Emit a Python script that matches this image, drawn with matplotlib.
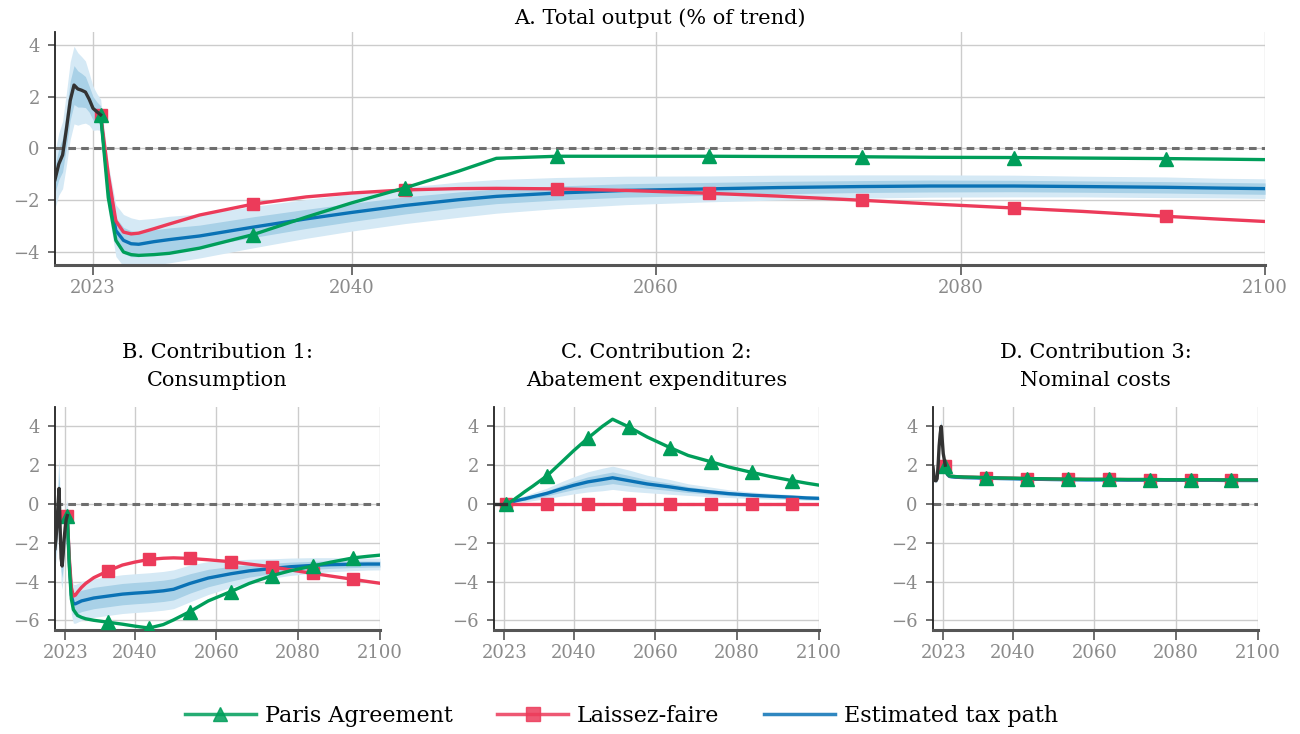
import matplotlib
matplotlib.use("Agg")
import matplotlib.pyplot as plt
from matplotlib.lines import Line2D
import numpy as np

plt.rcParams['font.family'] = ['DejaVu Serif']

# quarterly history, then the model paths
years_hist = [2020.5, 2020.75, 2021.0, 2021.25, 2021.5, 2021.75, 2022.0, 2022.25, 2022.5, 2022.75, 2023.0, 2023.25, 2023.5]
years_proj = [2023.5, 2024.0, 2024.5, 2025.0, 2025.5, 2026, 2027, 2028, 2030, 2033.5, 2037, 2040, 2043.5, 2047,
              2049.5, 2053.5, 2058, 2063.5, 2068, 2073.5, 2078, 2083.5, 2088, 2093.5, 2097, 2100]
marker_years = [2023.5, 2033.5, 2043.5, 2053.5, 2063.5, 2073.5, 2083.5, 2093.5]

# A. total output
hist_A = [-1.2, -0.6, -0.25, 0.75, 1.85, 2.45, 2.3, 2.25, 2.18, 1.9, 1.55, 1.42, 1.3]
hist_A_out = [1.1, 1.2, 1.3, 1.4, 1.5, 1.5, 1.4, 1.3, 1.2, 1.0, 0.85, 0.7, 0.6]
hist_A_in = [0.5, 0.6, 0.65, 0.7, 0.75, 0.75, 0.7, 0.65, 0.6, 0.5, 0.45, 0.38, 0.35]
paris_A = [1.3, -1.9, -3.55, -4.0, -4.1, -4.13, -4.1, -4.05, -3.85, -3.33, -2.65, -2.1, -1.52, -0.88,
           -0.38, -0.3, -0.3, -0.3, -0.31, -0.32, -0.34, -0.35, -0.37, -0.39, -0.41, -0.43]
laissez_A = [1.3, -1.0, -2.8, -3.23, -3.3, -3.27, -3.1, -2.92, -2.57, -2.15, -1.87, -1.72, -1.6, -1.55,
             -1.54, -1.56, -1.62, -1.73, -1.84, -2.0, -2.14, -2.3, -2.43, -2.62, -2.73, -2.82]
tax_A = [1.3, -1.5, -3.17, -3.55, -3.68, -3.7, -3.6, -3.52, -3.38, -3.04, -2.72, -2.47, -2.2, -1.98,
         -1.85, -1.72, -1.62, -1.56, -1.51, -1.47, -1.45, -1.45, -1.47, -1.5, -1.53, -1.55]
tax_A_out = [0.6, 0.9, 1.0, 1.0, 1.0, 0.95, 0.9, 0.9, 0.85, 0.8, 0.75, 0.72, 0.7, 0.68,
             0.65, 0.6, 0.55, 0.5, 0.48, 0.45, 0.43, 0.42, 0.4, 0.4, 0.38, 0.38]
tax_A_in = [0.35, 0.5, 0.5, 0.5, 0.5, 0.48, 0.46, 0.45, 0.42, 0.4, 0.37, 0.35, 0.33, 0.3,
            0.28, 0.27, 0.26, 0.25, 0.24, 0.23, 0.23, 0.22, 0.22, 0.22, 0.22, 0.22]

# B. consumption
hist_B = [-2.3, -1.8, -1.0, 0.0, 0.8, -1.2, -2.8, -3.2, -2.6, -1.8, -1.2, -0.8, -0.6]
hist_B_out = [1.0, 1.1, 1.3, 1.5, 1.6, 1.5, 1.3, 1.2, 1.1, 1.0, 0.9, 0.8, 0.8]
hist_B_in = [0.5, 0.55, 0.65, 0.75, 0.8, 0.75, 0.65, 0.6, 0.55, 0.5, 0.45, 0.4, 0.4]
paris_B = [-0.6, -3.2, -4.9, -5.45, -5.6, -5.75, -5.85, -5.92, -6.0, -6.1, -6.2, -6.3, -6.4, -6.22,
           -5.98, -5.55, -5.0, -4.52, -4.1, -3.7, -3.45, -3.2, -3.0, -2.78, -2.7, -2.64]
laissez_B = [-0.6, -2.8, -4.3, -4.75, -4.7, -4.55, -4.3, -4.1, -3.8, -3.45, -3.15, -3.0, -2.86, -2.8,
             -2.78, -2.81, -2.88, -2.98, -3.1, -3.24, -3.4, -3.58, -3.72, -3.89, -4.0, -4.09]
tax_B = [-0.6, -3.0, -4.7, -5.15, -5.15, -5.1, -5.0, -4.95, -4.85, -4.75, -4.65, -4.6, -4.55, -4.48,
         -4.4, -4.1, -3.82, -3.6, -3.45, -3.33, -3.24, -3.17, -3.13, -3.11, -3.1, -3.1]
tax_B_out = [0.8, 1.0, 1.0, 1.0, 1.0, 1.0, 1.0, 1.0, 1.0, 1.0, 1.0, 1.0, 1.0, 1.0,
             1.0, 0.95, 0.85, 0.7, 0.6, 0.5, 0.45, 0.4, 0.36, 0.33, 0.31, 0.3]
tax_B_in = [0.4, 0.55, 0.55, 0.55, 0.55, 0.55, 0.55, 0.55, 0.55, 0.55, 0.55, 0.55, 0.55, 0.55,
            0.55, 0.5, 0.45, 0.38, 0.32, 0.27, 0.24, 0.21, 0.19, 0.17, 0.16, 0.15]

# C. abatement expenditures
hist_C = [0.0] * 13
hist_C_out = [0.0] * 13
hist_C_in = [0.0] * 13
paris_C = [0.0, 0.05, 0.1, 0.17, 0.24, 0.32, 0.47, 0.63, 0.92, 1.46, 2.15, 2.75, 3.4, 4.0,
           4.37, 3.97, 3.45, 2.91, 2.5, 2.18, 1.9, 1.63, 1.42, 1.2, 1.07, 0.97]
laissez_C = [0.0] * 26
tax_C = [0.0, 0.03, 0.07, 0.11, 0.14, 0.17, 0.22, 0.26, 0.37, 0.55, 0.78, 0.96, 1.14, 1.26,
         1.35, 1.2, 1.03, 0.88, 0.74, 0.62, 0.53, 0.45, 0.4, 0.35, 0.31, 0.29]
tax_C_out = [0.0, 0.02, 0.04, 0.06, 0.08, 0.1, 0.13, 0.16, 0.2, 0.27, 0.37, 0.44, 0.52, 0.58,
             0.6, 0.55, 0.45, 0.38, 0.3, 0.25, 0.2, 0.17, 0.15, 0.13, 0.12, 0.11]
tax_C_in = [0.0, 0.01, 0.02, 0.03, 0.04, 0.05, 0.06, 0.08, 0.1, 0.13, 0.18, 0.22, 0.26, 0.29,
            0.3, 0.27, 0.22, 0.19, 0.15, 0.12, 0.1, 0.08, 0.07, 0.06, 0.06, 0.05]

# D. nominal costs
hist_D = [1.9, 1.4, 1.2, 1.2, 1.3, 2.0, 3.0, 3.6, 4.0, 3.3, 2.6, 2.3, 2.0]
hist_D_out = [0.1, 0.1, 0.1, 0.1, 0.15, 0.2, 0.3, 0.35, 0.4, 0.3, 0.2, 0.15, 0.1]
hist_D_in = [0.05, 0.05, 0.05, 0.05, 0.08, 0.1, 0.15, 0.18, 0.2, 0.15, 0.1, 0.08, 0.05]
paris_D = [1.95, 1.55, 1.45, 1.43, 1.42, 1.41, 1.4, 1.39, 1.38, 1.36, 1.34, 1.33, 1.31, 1.3,
           1.29, 1.28, 1.27, 1.27, 1.26, 1.26, 1.25, 1.25, 1.25, 1.24, 1.24, 1.24]
laissez_D = [1.95, 1.55, 1.45, 1.43, 1.42, 1.41, 1.4, 1.39, 1.38, 1.36, 1.34, 1.33, 1.31, 1.3,
             1.29, 1.28, 1.27, 1.27, 1.26, 1.26, 1.25, 1.25, 1.25, 1.24, 1.24, 1.24]
tax_D = [1.95, 1.52, 1.42, 1.4, 1.39, 1.38, 1.37, 1.36, 1.35, 1.33, 1.31, 1.3, 1.28, 1.27,
         1.26, 1.25, 1.24, 1.24, 1.23, 1.23, 1.22, 1.22, 1.22, 1.21, 1.21, 1.21]
tax_D_out = [0.05] * 26
tax_D_in = [0.03] * 26

GREEN = '#009e5a'
RED = '#ec3b5a'
BLUE = '#0a72b5'
BAND_OUT = '#d5e9f5'
BAND_IN = '#a9d1e7'
HIST = '#333333'

mk = [years_proj.index(y) for y in marker_years]


def band(ax, x, mid, half, color):
    mid = np.array(mid)
    half = np.array(half)
    ax.fill_between(x, mid - half, mid + half, color=color, lw=0, zorder=1)


def panel(ax, hist, h_out, h_in, paris, laissez, tax, t_out, t_in, ylim, yticks):
    band(ax, years_hist, hist, h_out, BAND_OUT)
    band(ax, years_proj, tax, t_out, BAND_OUT)
    band(ax, years_hist, hist, h_in, BAND_IN)
    band(ax, years_proj, tax, t_in, BAND_IN)
    ax.axhline(0, color='#6e6e6e', lw=2.2, ls=(0, (2.5, 1.7)), zorder=1.5)
    ax.plot(years_proj, tax, color=BLUE, lw=2.4, zorder=2)
    ax.plot(years_proj, laissez, color=RED, lw=2.4, marker='s', ms=9, markevery=mk, zorder=3)
    ax.plot(years_proj, paris, color=GREEN, lw=2.4, marker='^', ms=10, markevery=mk, zorder=4)
    ax.plot(years_hist, hist, color=HIST, lw=2.4, zorder=5)
    ax.set_xlim(2020.5, 2100)
    ax.set_ylim(*ylim)
    ax.set_xticks([2023, 2040, 2060, 2080, 2100])
    ax.set_yticks(yticks)
    ax.set_yticklabels([f'{t}'.replace('-', '\u2212') for t in yticks])
    ax.grid(True, color='#cccccc', lw=1.0, zorder=0)
    ax.set_axisbelow(True)
    for s in ['top', 'right']:
        ax.spines[s].set_visible(False)
    ax.spines['left'].set_color('#222222')
    ax.spines['left'].set_linewidth(1.3)
    ax.spines['bottom'].set_color('#555555')
    ax.spines['bottom'].set_linewidth(2.2)
    ax.tick_params(axis='x', length=7, width=1.2, color='#555555', labelcolor='#8a8a8a',
                   labelsize=13, pad=3)
    ax.tick_params(axis='y', length=5, width=1.2, color='#555555', labelcolor='#8a8a8a',
                   labelsize=13, pad=6)


fig = plt.figure(figsize=(13, 7.34), dpi=100)

axA = fig.add_axes([0.0423, 0.639, 0.9308, 0.3174])
panel(axA, hist_A, hist_A_out, hist_A_in, paris_A, laissez_A, tax_A, tax_A_out, tax_A_in,
      (-4.5, 4.5), [-4, -2, 0, 2, 4])
axA.set_title('A. Total output (% of trend)', fontsize=15, pad=6)

lower = [
    (0.0423, 'B. Contribution 1:\nConsumption',
     hist_B, hist_B_out, hist_B_in, paris_B, laissez_B, tax_B, tax_B_out, tax_B_in),
    (0.380, 'C. Contribution 2:\nAbatement expenditures',
     hist_C, hist_C_out, hist_C_in, paris_C, laissez_C, tax_C, tax_C_out, tax_C_in),
    (0.7177, 'D. Contribution 3:\nNominal costs',
     hist_D, hist_D_out, hist_D_in, paris_D, laissez_D, tax_D, tax_D_out, tax_D_in),
]
for left, title, *series in lower:
    ax = fig.add_axes([left, 0.1417, 0.25, 0.3038])
    panel(ax, *series, (-6.5, 5), [-6, -4, -2, 0, 2, 4])
    ax.set_title(title, fontsize=15, pad=15, linespacing=1.6)

handles = [
    Line2D([], [], color=GREEN, lw=2.5, marker='^', ms=10, alpha=0.85),
    Line2D([], [], color=RED, lw=2.5, marker='s', ms=10, alpha=0.85),
    Line2D([], [], color=BLUE, lw=2.5, alpha=0.85),
]
fig.legend(handles, ['Paris Agreement', 'Laissez-faire', 'Estimated tax path'],
           loc='center', bbox_to_anchor=(0.478, 0.0245), ncol=3, frameon=False,
           fontsize=16, handlelength=3.2, handletextpad=0.4, columnspacing=2.0)

fig.savefig('out.png', dpi=100)
